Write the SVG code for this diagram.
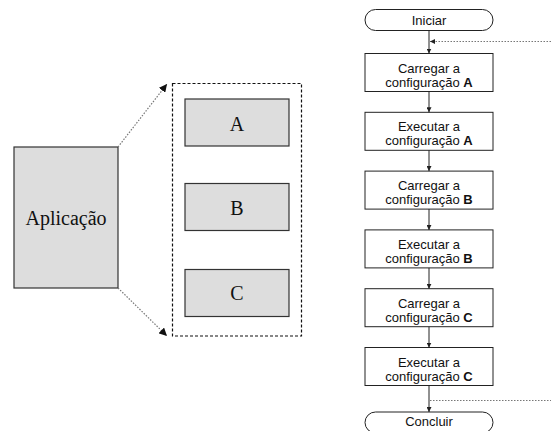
<svg xmlns="http://www.w3.org/2000/svg" width="551" height="431" viewBox="0 0 551 431">
  <style>
    .part { fill: #dddddd; stroke: #333333; stroke-width: 1.2; }
    .serif { font-family: "Liberation Serif", "Times New Roman", serif; font-size: 20px; fill: #111111; text-anchor: middle; }
    .step { fill: #ffffff; stroke: #222222; stroke-width: 1; }
    .label { font-family: "Liberation Sans", Arial, sans-serif; font-size: 13px; fill: #111111; text-anchor: middle; }
    .flow { stroke: #222222; stroke-width: 1; fill: none; }
    .dots { stroke: #777777; stroke-width: 1.2; stroke-dasharray: 1.5 1.5; fill: none; }
    .frame { fill: none; stroke: #111111; stroke-width: 1.2; stroke-dasharray: 3 2; }
  </style>
  <defs>
    <marker id="head" viewBox="0 0 10 10" refX="10" refY="5" markerWidth="5" markerHeight="5" orient="auto" markerUnits="userSpaceOnUse">
      <path d="M0,0 L10,5 L0,10 z" fill="#222222"/>
    </marker>
    <marker id="headBig" viewBox="0 0 10 10" refX="10" refY="5" markerWidth="8" markerHeight="8" orient="auto" markerUnits="userSpaceOnUse">
      <path d="M0,0 L10,5 L0,10 z" fill="#111111"/>
    </marker>
  </defs>

  <!-- application and its configurations -->
  <g id="app">
    <rect class="part" x="14" y="147" width="104" height="141"/>
    <text class="serif" x="66" y="225">Aplicação</text>
  </g>
  <g id="configs">
    <rect class="frame" x="172.5" y="83.5" width="129" height="252.5"/>
  </g>
  <g id="cfgA">
    <rect class="part" x="185" y="99" width="104" height="47"/>
    <text class="serif" x="237" y="131">A</text>
  </g>
  <g id="cfgB">
    <rect class="part" x="185" y="183.5" width="104" height="47"/>
    <text class="serif" x="237" y="215">B</text>
  </g>
  <g id="cfgC">
    <rect class="part" x="185" y="269.5" width="104" height="47"/>
    <text class="serif" x="237" y="300">C</text>
  </g>

  <!-- flowchart steps -->
  <g id="start">
    <rect class="step" x="365" y="9.5" width="128" height="21" rx="10.5"/>
    <text class="label" x="429" y="25">Iniciar</text>
  </g>
  <g id="loadA">
    <rect class="step" x="365" y="53.5" width="128" height="38"/>
    <text class="label" x="429" y="72.5">Carregar a</text>
    <text class="label" x="429" y="86.5">configuração <tspan font-weight="bold">A</tspan></text>
  </g>
  <g id="runA">
    <rect class="step" x="365" y="112.3" width="128" height="38"/>
    <text class="label" x="429" y="131.3">Executar a</text>
    <text class="label" x="429" y="145.3">configuração <tspan font-weight="bold">A</tspan></text>
  </g>
  <g id="loadB">
    <rect class="step" x="365" y="171.1" width="128" height="38"/>
    <text class="label" x="429" y="190.1">Carregar a</text>
    <text class="label" x="429" y="204.1">configuração <tspan font-weight="bold">B</tspan></text>
  </g>
  <g id="runB">
    <rect class="step" x="365" y="229.9" width="128" height="38"/>
    <text class="label" x="429" y="248.9">Executar a</text>
    <text class="label" x="429" y="262.9">configuração <tspan font-weight="bold">B</tspan></text>
  </g>
  <g id="loadC">
    <rect class="step" x="365" y="288.7" width="128" height="38"/>
    <text class="label" x="429" y="307.7">Carregar a</text>
    <text class="label" x="429" y="321.7">configuração <tspan font-weight="bold">C</tspan></text>
  </g>
  <g id="runC">
    <rect class="step" x="365" y="347.5" width="128" height="38"/>
    <text class="label" x="429" y="366.5">Executar a</text>
    <text class="label" x="429" y="380.5">configuração <tspan font-weight="bold">C</tspan></text>
  </g>
  <g id="end">
    <rect class="step" x="365" y="412" width="128" height="21" rx="10.5"/>
    <text class="label" x="429" y="426">Concluir</text>
  </g>

  <!-- connectors -->
  <g id="connectors">
    <line class="dots" x1="118" y1="147" x2="167" y2="84" marker-end="url(#headBig)"/>
    <line class="dots" x1="118" y1="288" x2="167" y2="336" marker-end="url(#headBig)"/>

    <line class="flow" x1="429" y1="30.5" x2="429" y2="53.5" marker-end="url(#head)"/>
    <line class="flow" x1="429" y1="91.5" x2="429" y2="112.3" marker-end="url(#head)"/>
    <line class="flow" x1="429" y1="150.3" x2="429" y2="171.1" marker-end="url(#head)"/>
    <line class="flow" x1="429" y1="209.1" x2="429" y2="229.9" marker-end="url(#head)"/>
    <line class="flow" x1="429" y1="267.9" x2="429" y2="288.7" marker-end="url(#head)"/>
    <line class="flow" x1="429" y1="326.7" x2="429" y2="347.5" marker-end="url(#head)"/>
    <line class="flow" x1="429" y1="385.5" x2="429" y2="412" marker-end="url(#head)"/>

    <line class="dots" x1="551" y1="41.5" x2="430" y2="41.5" marker-end="url(#head)"/>
    <line class="dots" x1="430" y1="400.5" x2="551" y2="400.5"/>
  </g>
</svg>
